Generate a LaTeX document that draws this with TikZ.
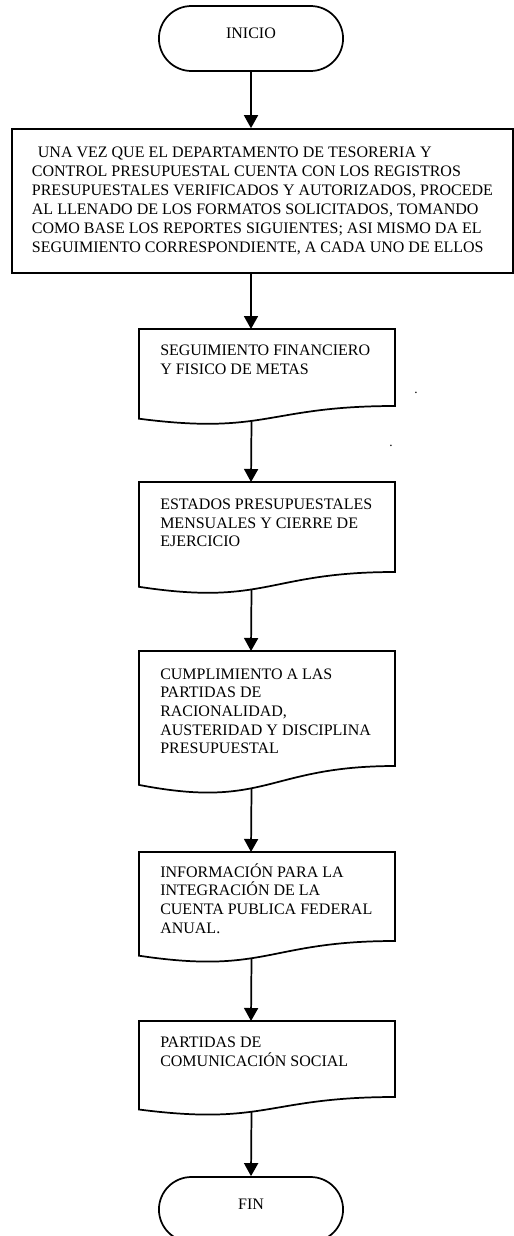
\documentclass[tikz,border=0pt]{standalone}
\usepackage{fontspec}
\setmainfont{Liberation Serif}
\usetikzlibrary{arrows.meta,shapes.misc}
\tikzset{
  flow/.style={line width=1.3pt},
  arrow/.style={flow,-{Triangle[length=9.75pt,width=10.5pt]}},
  terminal/.style={draw,flow,rounded rectangle,minimum width=144.75pt,minimum height=48.75pt,text depth=8pt,font=\fontsize{12}{14}\selectfont},
  process/.style={draw,flow,align=left,minimum width=375.75pt,minimum height=108pt,inner sep=0pt,font=\fontsize{12}{14.25}\selectfont},
  doctext/.style={align=left,anchor=north west,inner sep=0pt,font=\fontsize{12}{14}\selectfont},
}
\begin{document}
\begin{tikzpicture}[x=0.75pt,y=-0.75pt]
\useasboundingbox (0,0) rectangle (514,1236);
\node[terminal] (inicio) at (251,38.5) {INICIO};
\node[process] (tes) at (262.5,201) {\hspace*{4.5pt}UNA VEZ QUE EL DEPARTAMENTO DE TESORERIA Y\\CONTROL PRESUPUESTAL CUENTA CON LOS REGISTROS\\PRESUPUESTALES VERIFICADOS Y AUTORIZADOS, PROCEDE\\AL LLENADO DE LOS FORMATOS SOLICITADOS, TOMANDO\\COMO BASE LOS REPORTES SIGUIENTES; ASI MISMO DA EL\\SEGUIMIENTO CORRESPONDIENTE, A CADA UNO DE ELLOS};
% reportes
\draw[flow] (139,329) -- (395,329) -- (395,406) .. controls (267,406) and (267,435.3) .. (139,418.7) coordinate[pos=0.58] (seg-b) -- cycle;
\coordinate (seg-t) at (251,329);
\node[doctext] (seg) at (160,344.7) {SEGUIMIENTO FINANCIERO\\Y FISICO DE METAS};
\draw[flow] (139,482) -- (395,482) -- (395,572) .. controls (267,572) and (267,606.3) .. (139,586.8) coordinate[pos=0.58] (est-b) -- cycle;
\coordinate (est-t) at (251,482);
\node[doctext] (est) at (160,498.7) {ESTADOS PRESUPUESTALES\\MENSUALES Y CIERRE DE\\EJERCICIO};
\draw[flow] (139,651) -- (395,651) -- (395,766) .. controls (267,766) and (267,809.8) .. (139,784.9) coordinate[pos=0.58] (cum-b) -- cycle;
\coordinate (cum-t) at (251,651);
\node[doctext] (cum) at (160,668.4) {CUMPLIMIENTO A LAS\\PARTIDAS DE\\RACIONALIDAD,\\AUSTERIDAD Y DISCIPLINA\\PRESUPUESTAL};
\draw[flow] (139,852) -- (395,852) -- (395,941) .. controls (267,941) and (267,974.9) .. (139,955.7) coordinate[pos=0.58] (inf-b) -- cycle;
\coordinate (inf-t) at (251,852);
\node[doctext] (inf) at (160,863) {INFORMACIÓN PARA LA\\INTEGRACIÓN DE LA\\CUENTA PUBLICA FEDERAL\\ANUAL.};
\draw[flow] (139,1021) -- (395,1021) -- (395,1097) .. controls (267,1097) and (267,1126) .. (139,1109.5) coordinate[pos=0.58] (par-b) -- cycle;
\coordinate (par-t) at (251,1021);
\node[doctext] (par) at (160,1036.7) {PARTIDAS DE\\COMUNICACIÓN SOCIAL};
\node[terminal] (fin) at (251,1209.5) {FIN};
\node[inner sep=0pt] (dotA) at (416,393) {.};
\node[inner sep=0pt] (dotB) at (391,446) {.};
% conectores
\draw[arrow] (inicio.south) -- (inicio |- tes.north);
\draw[arrow] (inicio |- tes.south) -- (seg-t);
\draw[arrow] (seg-b) -- (est-t);
\draw[arrow] (est-b) -- (cum-t);
\draw[arrow] (cum-b) -- (inf-t);
\draw[arrow] (inf-b) -- (par-t);
\draw[arrow] (par-b) -- (fin.north);
\end{tikzpicture}
\end{document}
